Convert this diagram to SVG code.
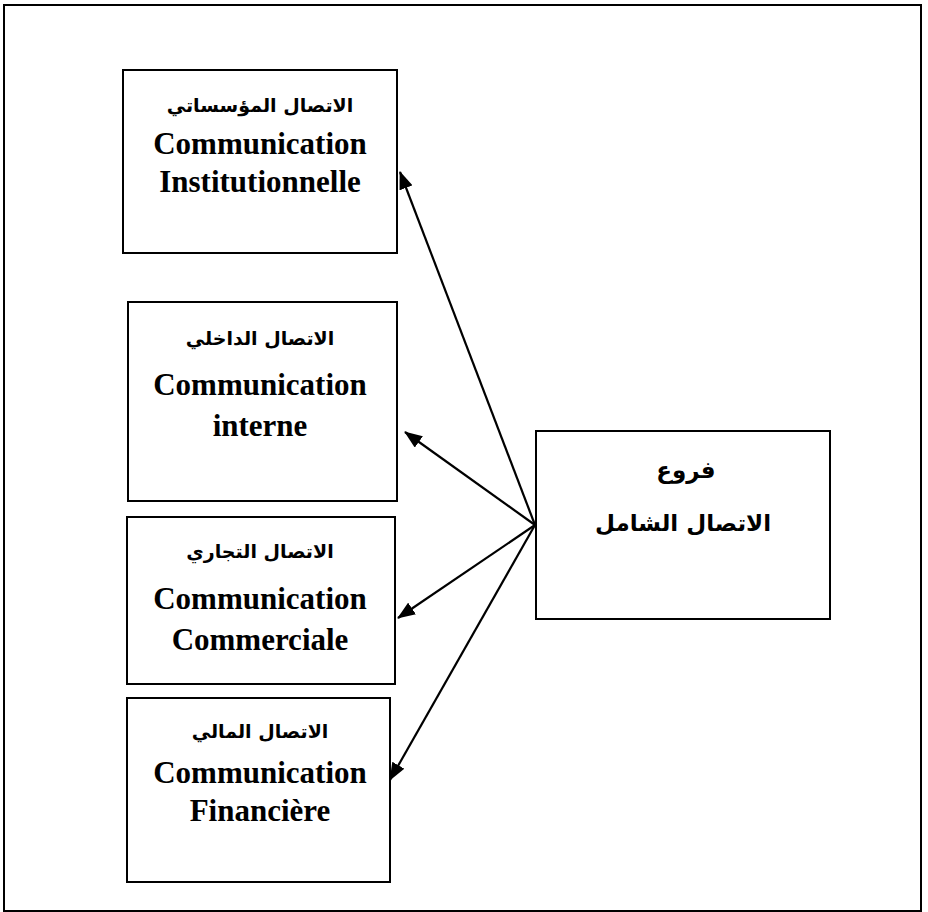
<svg xmlns="http://www.w3.org/2000/svg" width="928" height="912" viewBox="0 0 928 912">
<style>
.box{fill:#fff;stroke:#000;stroke-width:2}
.lat{font-family:"Liberation Serif","Times New Roman",serif;font-weight:bold;font-size:31px;text-anchor:middle;fill:#000}
.ar{font-family:"DejaVu Sans",sans-serif;font-weight:bold;font-size:19px;text-anchor:middle;fill:#000}
.arL{font-family:"DejaVu Sans",sans-serif;font-weight:bold;font-size:23px;text-anchor:middle;fill:#000}
.con{stroke:#000;stroke-width:2.2;fill:none;marker-end:url(#ah)}
</style>
<defs>
<marker id="ah" viewBox="0 0 18 14" refX="17" refY="7" markerWidth="18" markerHeight="14" markerUnits="userSpaceOnUse" orient="auto">
<path d="M0,0 L18,7 L0,14 z" fill="#000"/>
</marker>
</defs>
<rect x="4" y="5" width="917" height="906" fill="#fff" stroke="#000" stroke-width="2"/>
<g id="n1">
<rect class="box" x="123" y="70" width="274" height="183"/>
<text class="ar" x="260" y="112" direction="rtl">الاتصال المؤسساتي</text>
<text class="lat" x="260" y="154">Communication</text>
<text class="lat" x="260" y="192">Institutionnelle</text>
</g>
<g id="n2">
<rect class="box" x="128" y="302" width="269" height="199"/>
<text class="ar" x="260" y="345" direction="rtl">الاتصال الداخلي</text>
<text class="lat" x="260" y="395">Communication</text>
<text class="lat" x="260" y="436">interne</text>
</g>
<g id="n3">
<rect class="box" x="127" y="517" width="268" height="167"/>
<text class="ar" x="260" y="558" direction="rtl">الاتصال التجاري</text>
<text class="lat" x="260" y="609">Communication</text>
<text class="lat" x="260" y="650">Commerciale</text>
</g>
<g id="n4">
<rect class="box" x="127" y="698" width="263" height="184"/>
<text class="ar" x="260" y="738" direction="rtl">الاتصال المالي</text>
<text class="lat" x="260" y="783">Communication</text>
<text class="lat" x="260" y="821">Financière</text>
</g>
<g id="n5">
<rect class="box" x="536" y="431" width="294" height="188"/>
<text class="arL" x="686" y="478" direction="rtl">فروع</text>
<text class="arL" x="683" y="531" direction="rtl">الاتصال الشامل</text>
</g>
<g id="connectors">
<line class="con" x1="535" y1="525" x2="400" y2="172"/>
<line class="con" x1="535" y1="525" x2="405" y2="432"/>
<line class="con" x1="535" y1="525" x2="398" y2="618"/>
<line class="con" x1="535" y1="525" x2="390" y2="780"/>
</g>
</svg>
